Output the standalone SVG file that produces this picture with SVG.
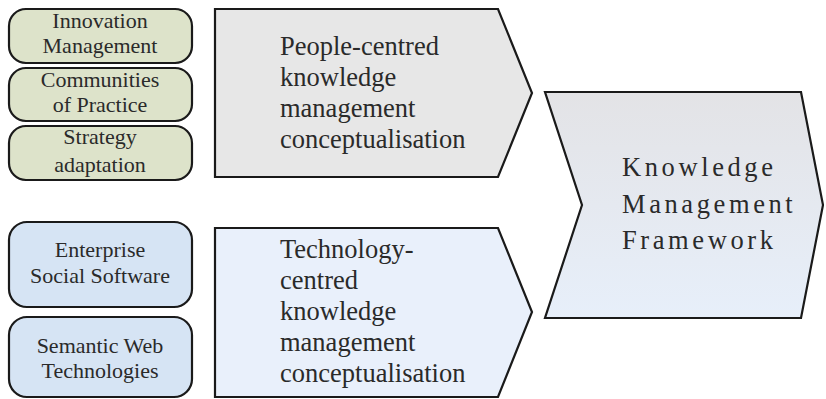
<svg xmlns="http://www.w3.org/2000/svg" width="826" height="399" viewBox="0 0 826 399">
<defs>
<linearGradient id="gFrame" x1="0" y1="0" x2="0" y2="1">
<stop offset="0" stop-color="#E3E3E6"/>
<stop offset="1" stop-color="#E7EFFA"/>
</linearGradient>
</defs>
<style>
.box{stroke:#1a1a1a;stroke-width:2.2}
.green{fill:#DDE3CA}
.blue{fill:#D6E4F4}
text{font-family:'Liberation Serif','DejaVu Serif',serif;fill:#2a2a2a}
.small{font-size:22px;text-anchor:middle}
.big{font-size:26.5px}
.kmf{font-size:26.5px;letter-spacing:3.6px}
</style>
<rect width="826" height="399" fill="#ffffff"/>
<g id="innovation-management">
<rect class="box green" x="9" y="9" width="183" height="54" rx="17"/>
<text class="small" x="100" y="28" font-family="Liberation Serif, serif">Innovation</text>
<text class="small" x="100" y="53" font-family="Liberation Serif, serif">Management</text>
</g>
<g id="communities-of-practice">
<rect class="box green" x="9" y="68" width="183" height="53" rx="17"/>
<text class="small" x="100" y="87" font-family="Liberation Serif, serif">Communities</text>
<text class="small" x="100" y="112" font-family="Liberation Serif, serif">of Practice</text>
</g>
<g id="strategy-adaptation">
<rect class="box green" x="9" y="126" width="183" height="54" rx="17"/>
<text class="small" x="100" y="144" font-family="Liberation Serif, serif">Strategy</text>
<text class="small" x="100" y="172" font-family="Liberation Serif, serif">adaptation</text>
</g>
<g id="enterprise-social-software">
<rect class="box blue" x="9" y="222" width="183" height="85" rx="18"/>
<text class="small" x="100" y="257" font-family="Liberation Serif, serif">Enterprise</text>
<text class="small" x="100" y="283" font-family="Liberation Serif, serif">Social Software</text>
</g>
<g id="semantic-web-technologies">
<rect class="box blue" x="9" y="317" width="183" height="80" rx="18"/>
<text class="small" x="100" y="353" font-family="Liberation Serif, serif">Semantic Web</text>
<text class="small" x="100" y="378" font-family="Liberation Serif, serif">Technologies</text>
</g>
<g id="people-centred">
<polygon class="box" fill="#E7E7E7" points="215,9 498,9 532,93 498,177 215,177"/>
<text class="big" x="280" y="55" font-family="Liberation Serif, serif">People-centred</text>
<text class="big" x="280" y="86" font-family="Liberation Serif, serif">knowledge</text>
<text class="big" x="280" y="117" font-family="Liberation Serif, serif">management</text>
<text class="big" x="280" y="148" font-family="Liberation Serif, serif">conceptualisation</text>
</g>
<g id="technology-centred">
<polygon class="box" fill="#E9F0FB" points="215,228 498,228 532,312 498,397 215,397"/>
<text class="big" x="280" y="258" font-family="Liberation Serif, serif">Technology-</text>
<text class="big" x="280" y="289" font-family="Liberation Serif, serif">centred</text>
<text class="big" x="280" y="320" font-family="Liberation Serif, serif">knowledge</text>
<text class="big" x="280" y="351" font-family="Liberation Serif, serif">management</text>
<text class="big" x="280" y="382" font-family="Liberation Serif, serif">conceptualisation</text>
</g>
<g id="knowledge-management-framework">
<polygon class="box" fill="url(#gFrame)" points="545,92 801,92 823,205 801,318 545,318 582,205"/>
<text class="kmf" x="622" y="176" font-family="Liberation Serif, serif">Knowledge</text>
<text class="kmf" x="622" y="213" font-family="Liberation Serif, serif">Management</text>
<text class="kmf" x="622" y="249" font-family="Liberation Serif, serif">Framework</text>
</g>
<g id="connectors"></g>
</svg>
